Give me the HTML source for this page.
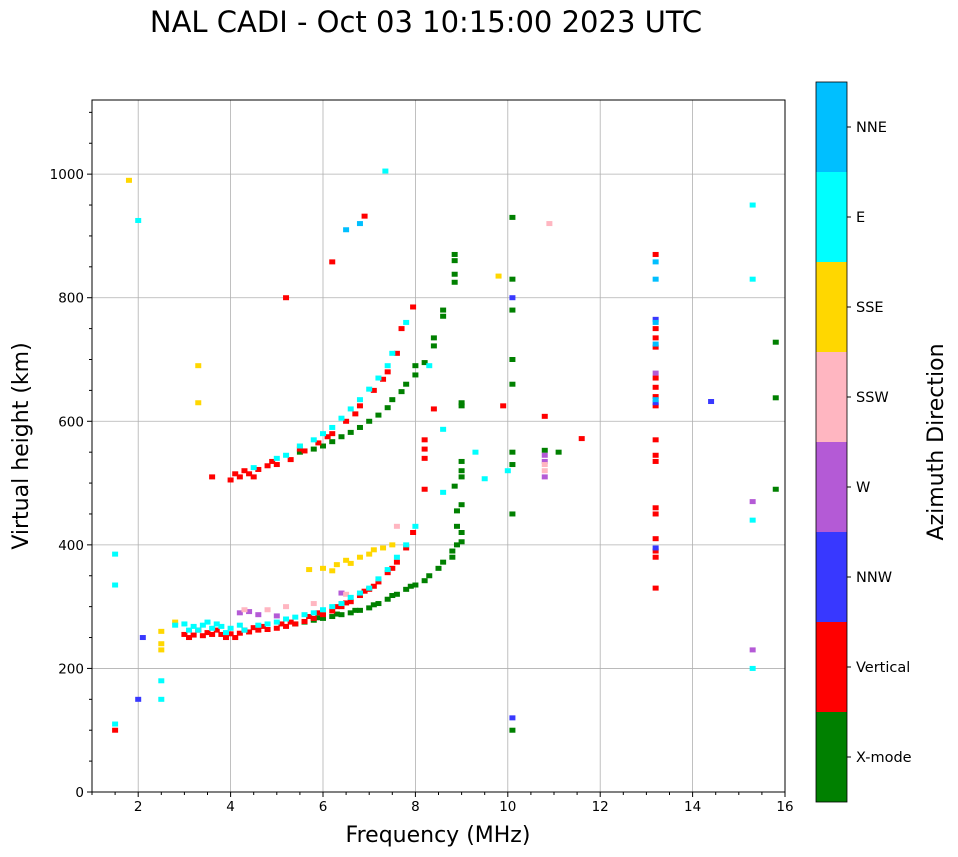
<!DOCTYPE html>
<html><head><meta charset="utf-8">
<style>
html,body{margin:0;padding:0;background:#fff;width:958px;height:857px;overflow:hidden;font-family:"DejaVu Sans","Liberation Sans",sans-serif;}
</style></head>
<body>
<svg id="chart" width="958" height="857" xmlns="http://www.w3.org/2000/svg" font-family="DejaVu Sans, Liberation Sans, sans-serif">
<text x="426" y="32" font-size="29" text-anchor="middle">NAL CADI - Oct 03 10:15:00 2023 UTC</text>
<g id="grid"></g>
<g id="marks"></g>
<rect x="92" y="100" width="693" height="692" fill="none" stroke="#000" stroke-width="1"/>
<g id="axes"></g>
<text x="438" y="842" font-size="22" text-anchor="middle">Frequency (MHz)</text>
<text transform="translate(28,446) rotate(-90)" font-size="22" text-anchor="middle">Virtual height (km)</text>
<g id="colorbar"></g>
<text transform="translate(943,442) rotate(-90)" font-size="22" text-anchor="middle">Azimuth Direction</text>
</svg>
<script>
const xTicks=[2,4,6,8,10,12,14,16];
const yTicks=[0,200,400,600,800,1000];
const categories=["X-mode","Vertical","NNW","W","SSW","SSE","E","NNE"];
const catColors=["#008000","#ff0000","#3838ff","#b45ad6","#ffb6c1","#ffd700","#00ffff","#00bfff"];
const xmodePts=[[5.4,272],[5.6,275],[5.8,278],[6,281],[6.2,284],[6.4,287],[6.6,290],[6.8,294],[7,298],[7.2,305],[7.4,312],[7.6,320],[7.8,328],[8,335],[8.2,342],[8.3,350],[8.5,362],[8.6,372],[8.8,380],[8.8,390],[8.9,400],[8.9,430],[8.9,455],[5.9,282],[6.3,288],[6.7,294],[7.1,303],[7.5,318],[7.9,333],[5.5,550],[5.8,555],[6,560],[6.2,567],[6.4,575],[6.6,582],[6.8,590],[7,600],[7.2,610],[7.4,622],[7.5,635],[7.7,648],[7.8,660],[8,675],[8,690],[8.2,695],[8.6,770],[8.6,780],[8.85,860],[8.85,870],[9,405],[9,420],[9,630],[9,625],[9,535],[9,520],[9,510],[9,465],[8.85,495],[10.1,930],[10.1,830],[10.1,780],[10.1,700],[10.1,660],[10.1,550],[10.1,530],[10.1,450],[10.1,100],[15.8,728],[15.8,638],[15.8,490],[10.8,553],[11.1,550],[8.4,735],[8.4,722],[8.85,838],[8.85,825]];
const verticalPts=[[3,255],[3.2,254],[3.4,253],[3.6,255],[3.8,255],[4,256],[4.2,257],[4.4,259],[4.6,262],[4.8,263],[5,265],[5.2,268],[5.4,272],[5.6,276],[5.8,281],[6,287],[6.2,293],[6.4,300],[6.6,308],[6.8,318],[7,328],[7.2,340],[7.4,355],[7.6,372],[7.8,395],[7.95,420],[3.3,262],[3.7,262],[4.1,250],[4.5,266],[5.1,272],[5.7,284],[6.3,300],[6.9,325],[3.1,250],[3.5,258],[3.9,250],[4.3,262],[4.7,268],[5.3,275],[5.9,290],[6.5,306],[7.1,333],[7.5,362],[4,505],[4.2,510],[4.4,515],[4.6,522],[4.8,528],[5,530],[5.3,538],[5.6,552],[5.9,565],[6.2,580],[6.5,600],[6.8,625],[7.1,650],[7.4,680],[7.6,710],[7.7,750],[7.95,785],[4.3,520],[4.9,535],[4.1,515],[4.5,510],[5.5,555],[6.1,575],[6.7,612],[7.3,668],[13.2,870],[13.2,750],[13.2,735],[13.2,720],[13.2,670],[13.2,655],[13.2,640],[13.2,625],[13.2,570],[13.2,545],[13.2,535],[13.2,460],[13.2,450],[13.2,410],[13.2,390],[13.2,380],[13.2,330],[6.2,858],[6.9,932],[1.5,100],[8.4,620],[8.2,570],[8.2,555],[8.2,540],[8.2,490],[10.8,608],[11.6,572],[5.2,800],[9.9,625],[3.6,510]];
const nnwPts=[[2.1,250],[2.0,150],[10.1,800],[10.1,120],[13.2,395],[14.4,632],[13.2,765],[13.2,630]];
const wPts=[[4.2,290],[4.6,287],[5,285],[6.4,322],[10.8,510],[10.8,535],[15.3,230],[15.3,470],[13.2,678],[10.8,545],[4.4,292]];
const sswPts=[[4.3,295],[4.8,295],[5.2,300],[6.5,320],[10.8,520],[10.8,530],[10.9,920],[7.6,430],[5.8,305]];
const ssePts=[[5.7,360],[6,362],[6.3,368],[6.5,375],[6.8,380],[7,385],[7.3,395],[7.5,400],[3.3,690],[3.3,630],[2.5,260],[2.5,240],[2.5,230],[1.8,990],[9.8,835],[5.5,560],[2.8,275],[6.2,358],[6.6,370],[7.1,392]];
const ePts=[[2.8,270],[3,272],[3.2,268],[3.4,270],[3.6,265],[3.8,268],[4,265],[4.3,262],[4.6,270],[5,275],[5.4,283],[5.8,290],[6.2,300],[6.6,315],[7,330],[7.4,360],[7.8,400],[8,430],[3.1,262],[3.5,275],[3.9,258],[3.3,262],[3.7,272],[4.2,270],[4.8,272],[5.2,280],[5.6,287],[6,295],[6.4,305],[6.8,322],[7.2,345],[7.6,380],[4.5,525],[5,540],[5.5,560],[6,580],[6.4,605],[6.8,635],[7.2,670],[7.5,710],[7.8,760],[5.2,545],[5.8,570],[6.2,590],[6.6,620],[7,652],[7.4,690],[15.3,950],[15.3,830],[15.3,440],[15.3,200],[1.5,385],[1.5,335],[2.0,925],[7.35,1005],[8.6,587],[8.6,485],[9.3,550],[9.5,507],[10,520],[8.3,690],[2.5,180],[2.5,150],[1.5,110]];
const nnePts=[[13.2,830],[13.2,858],[13.2,760],[13.2,725],[13.2,635],[6.5,910],[6.8,920]];
const series=[xmodePts,verticalPts,nnwPts,wPts,sswPts,ssePts,ePts,nnePts];

const NS="http://www.w3.org/2000/svg";
const X0=92,X1=785,Y0=792,Y1=100,FMIN=1,FMAX=16,HMIN=0,HMAX=1120;
function xs(f){return X0+(f-FMIN)/(FMAX-FMIN)*(X1-X0);}
function ys(h){return Y0-(h-HMIN)/(HMAX-HMIN)*(Y0-Y1);}
function mk(tag,attrs,parent){const e=document.createElementNS(NS,tag);for(const k in attrs)e.setAttribute(k,attrs[k]);parent.appendChild(e);return e;}
const grid=document.getElementById('grid'),axes=document.getElementById('axes'),marks=document.getElementById('marks'),cb=document.getElementById('colorbar');
xTicks.forEach(t=>{const x=xs(t);
 const g=mk('line',{x1:x,x2:x,y1:Y1,y2:Y0,stroke:'#b0b0b0','stroke-width':0.8},grid);
 
 
 mk('line',{x1:x,x2:x,y1:Y0,y2:Y0+5,stroke:'#000'},axes);
 const tx=mk('text',{x:x,y:Y0+19,'font-size':13.5,'text-anchor':'middle'},axes);tx.textContent=t;
 
 
});
for(let f=1;f<=16;f+=0.5){if(xTicks.includes(f))continue;const x=xs(f);mk('line',{x1:x,x2:x,y1:Y0,y2:Y0+3,stroke:'#000'},axes);}
yTicks.forEach(t=>{const y=ys(t);
 const g=mk('line',{x1:X0,x2:X1,y1:y,y2:y,stroke:'#b0b0b0','stroke-width':0.8},grid);
 
 
 mk('line',{x1:X0-5,x2:X0,y1:y,y2:y,stroke:'#000'},axes);
 const tx=mk('text',{x:X0-8,y:y+5,'font-size':13.5,'text-anchor':'end'},axes);tx.textContent=t;
 
 
});
for(let h=50;h<HMAX;h+=50){if(yTicks.includes(h))continue;const y=ys(h);mk('line',{x1:X0-3,x2:X0,y1:y,y2:y,stroke:'#000'},axes);}
series.forEach((pts,ci)=>{pts.forEach(p=>{
 const r=mk('rect',{x:xs(p[0])-3,y:ys(p[1])-2.5,width:6,height:5,fill:catColors[ci]},marks);
 
 
});});
const CBX=816,CBW=31,CBT=82,CBB=802,seg=(CBB-CBT)/categories.length;
categories.forEach((c,i)=>{const y=CBB-(i+1)*seg;
 const r=mk('rect',{x:CBX,y:y,width:CBW,height:seg,fill:catColors[i]},cb);
 
 
 mk('line',{x1:CBX+CBW,x2:CBX+CBW+4,y1:y+seg/2,y2:y+seg/2,stroke:'#000'},cb);
 const tx=mk('text',{x:CBX+CBW+9,y:y+seg/2+5,'font-size':14.5},cb);tx.textContent=c;
 
 
});
mk('rect',{x:CBX,y:CBT,width:CBW,height:CBB-CBT,fill:'none',stroke:'#000','stroke-width':0.8},cb);
</script>
</body></html>
